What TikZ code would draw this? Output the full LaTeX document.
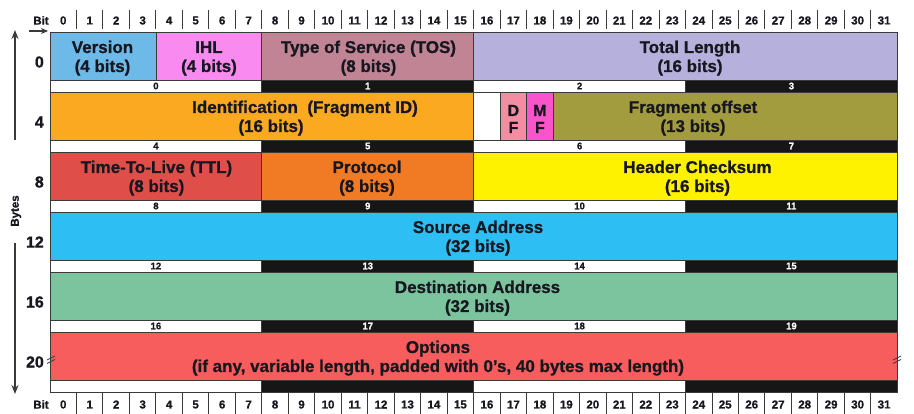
\documentclass[tikz,border=0pt]{standalone}
\usepackage{fontspec}
\setmainfont{Liberation Sans}[BoldFeatures={FakeBold=0.8}]
\usetikzlibrary{arrows.meta}
\definecolor{txt}{HTML}{17171F}
\definecolor{cVer}{HTML}{6DB9E8}
\definecolor{cIHL}{HTML}{F98BF0}
\definecolor{cTOS}{HTML}{C08494}
\definecolor{cTL}{HTML}{B6B1DC}
\definecolor{cID}{HTML}{FCA922}
\definecolor{cDF}{HTML}{F28DA2}
\definecolor{cMF}{HTML}{F954C9}
\definecolor{cFO}{HTML}{A39C3E}
\definecolor{cTTL}{HTML}{E04E4A}
\definecolor{cProt}{HTML}{F17B25}
\definecolor{cHC}{HTML}{FFF200}
\definecolor{cSrc}{HTML}{2DBEF4}
\definecolor{cDst}{HTML}{7CC49E}
\definecolor{cOpt}{HTML}{F75D5D}
\definecolor{stripblk}{HTML}{161616}
\definecolor{edge}{HTML}{3A3A3A}
\tikzset{
  cell/.style={draw=edge, line width=0.8pt},
  lbl/.style={font=\bfseries\fontsize{17}{19}\selectfont, text=txt, anchor=base, inner sep=0pt},
  flag/.style={font=\bfseries\fontsize{16}{17}\selectfont, text=txt, anchor=base, inner sep=0pt},
  bitn/.style={font=\bfseries\fontsize{11.5}{12}\selectfont, text=txt, inner sep=0pt},
  stripn/.style={font=\bfseries\fontsize{9.5}{10}\selectfont, inner sep=0pt},
  rown/.style={font=\bfseries\fontsize{16}{16}\selectfont, text=txt, anchor=east, inner sep=0pt},
  divl/.style={draw=edge, line width=1pt},
  brk/.style={draw=edge, line width=0.8pt},
  axis/.style={draw=edge, line width=1.3pt, -{Stealth[length=9pt,width=7pt]}},
}
\newcommand\flabel[5]{%
  \node[lbl] (#1a) at (#2,{#3+21}) {#4};
  \node[lbl] (#1b) at (#2,{#3+40}) {#5};}
\begin{document}
\begin{tikzpicture}[x=1pt,y=-1pt]
\useasboundingbox (0,0) rectangle (914,414);
\fill[white] (0,0) rectangle (914,414);

% field cells
\foreach \s/\e/\r/\c in {0/4/0/cVer,4/8/0/cIHL,8/16/0/cTOS,16/32/0/cTL,
  0/16/1/cID,16/17/1/white,17/18/1/cDF,18/19/1/cMF,19/32/1/cFO,
  0/8/2/cTTL,8/16/2/cProt,16/32/2/cHC,0/32/3/cSrc,0/32/4/cDst,0/32/5/cOpt}
  \filldraw[cell, fill=\c] ({50+26.48*\s},{32+60*\r}) rectangle ({50+26.48*\e},{80+60*\r});

% byte strips
\foreach \r in {0,...,5}{
  \foreach \k in {0,2}
    \filldraw[cell, fill=white] ({50+26.48*8*\k},{80+60*\r}) rectangle ({50+26.48*8*(\k+1)},{92+60*\r});
  \foreach \k in {1,3}
    \filldraw[cell, fill=stripblk] ({50+26.48*8*\k},{80+60*\r}) rectangle ({50+26.48*8*(\k+1)},{92+60*\r});
}
\foreach \r in {0,...,4}{
  \foreach \k in {0,...,3}{
    \pgfmathtruncatemacro\n{4*\r+\k}
    \ifodd\k \def\tc{white}\else\def\tc{txt}\fi
    \node[stripn, text=\tc] (s\n) at ({50+26.48*8*(\k+0.5)},{86+60*\r}) {\n};
  }
}

% bit header rows
\foreach \b in {0,...,31}{
  \node[bitn] (t\b) at ({50+26.48*(\b+0.5)},20.5) {\b};
  \node[bitn] (u\b) at ({50+26.48*(\b+0.5)},404.5) {\b};
}
\foreach \b in {1,...,31}{
  \draw[divl] ({50+26.48*\b},10) -- ({50+26.48*\b},29);
  \draw[divl] ({50+26.48*\b},393) -- ({50+26.48*\b},414);
}
\node[bitn] (bitT) at (41,20.5) {Bit};
\node[bitn] (bitB) at (41,404.5) {Bit};
\coordinate (ba0) at (29,31);
\coordinate (ba1) at (48,31);
\draw[draw=edge, line width=1.2pt, -{Stealth[length=7pt,width=6pt]}] (ba0) -- (ba1);

% field labels
\flabel{ver}{102.5}{32}{Version}{(4 bits)}
\flabel{ihl}{209}{32}{IHL}{(4 bits)}
\flabel{tos}{368.5}{32}{Type of Service (TOS)}{(8 bits)}
\flabel{tl}{690}{32}{Total Length}{(16 bits)}
\node[lbl] (ida) at (305,113) {Identification\ \ (Fragment ID)};
\node[lbl] (idb) at (271,132) {(16 bits)};
\node[flag] (dfa) at ({50+26.48*17.5},116) {D};
\node[flag] (dfb) at ({50+26.48*17.5},133) {F};
\node[flag] (mfa) at ({50+26.48*18.5},116) {M};
\node[flag] (mfb) at ({50+26.48*18.5},133) {F};
\flabel{fo}{693}{92}{Fragment offset}{(13 bits)}
\flabel{ttl}{156.5}{152}{Time-To-Live (TTL)}{(8 bits)}
\flabel{pr}{367}{152}{Protocol}{(8 bits)}
\flabel{hc}{697.5}{152}{Header Checksum}{(16 bits)}
\flabel{src}{478}{212}{Source Address}{(32 bits)}
\flabel{dst}{477.5}{272}{Destination Address}{(32 bits)}
\flabel{opt}{438}{332}{Options}{(if any, variable length, padded with 0’s, 40 bytes max length)}

% row byte offsets
\foreach \r/\t in {0/0,1/4,2/8,3/12,4/16,5/20}
  \node[rown] (rl\r) at (44,{62+60*\r}) {\t};

% break marks
\foreach \x in {51,897}{
  \draw[brk] (\x-4,360) -- (\x+4,356);
  \draw[brk] (\x-4,363.5) -- (\x+4,359.5);
}

% Bytes axis
\node[font=\bfseries\fontsize{11.5}{12}\selectfont, text=txt, rotate=90, inner sep=1pt] (bytes) at (16,211) {Bytes};
\coordinate (atop) at (15,30);
\coordinate (gtop) at (15,140);
\coordinate (gbot) at (15,243);
\coordinate (abot) at (15,394);
\draw[axis] (gtop) -- (atop);
\draw[axis] (gbot) -- (abot);
\end{tikzpicture}
\end{document}
